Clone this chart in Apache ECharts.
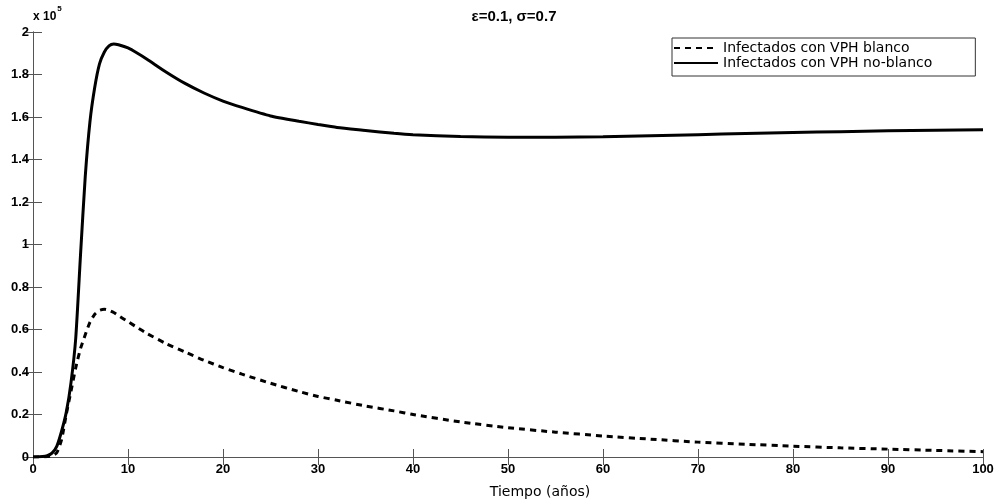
<!DOCTYPE html>
<html>
<head>
<meta charset="utf-8">
<script src="https://cdn.jsdelivr.net/npm/echarts@6/dist/echarts.min.js"></script>
<style>
  html, body { margin: 0; padding: 0; background: #fff; }
  #chart { width: 999px; height: 504px; }
</style>
</head>
<body>
<div id="chart"></div>
<script>
// Time grid (years)
const tiempo = [0, 1, 1.5, 2, 2.5, 3, 3.5, 4, 4.5, 5, 5.5, 6, 6.5, 7, 7.5, 8, 8.5, 9, 10, 11, 12, 14, 16, 18, 20, 22, 25, 28, 30, 32, 35, 38, 40, 45, 50, 55, 60, 65, 70, 75, 80, 85, 90, 95, 100];

// Infected with target HPV types (x 10^5)
const infectadosBlanco = [0, 0.0005, 0.002, 0.006, 0.02, 0.08, 0.2, 0.31, 0.42, 0.51, 0.575, 0.635, 0.672, 0.69, 0.695, 0.69, 0.68, 0.665, 0.637, 0.609, 0.581, 0.534, 0.494, 0.455, 0.421, 0.39, 0.347, 0.308, 0.285, 0.267, 0.24, 0.217, 0.2, 0.165, 0.138, 0.117, 0.099, 0.084, 0.07, 0.06, 0.051, 0.043, 0.037, 0.031, 0.025];

// Infected with non-target HPV types (x 10^5)
const infectadosNoBlanco = [0, 0.002, 0.006, 0.018, 0.05, 0.12, 0.21, 0.35, 0.56, 0.95, 1.32, 1.58, 1.74, 1.85, 1.905, 1.935, 1.944, 1.94, 1.925, 1.9, 1.872, 1.812, 1.758, 1.713, 1.675, 1.645, 1.605, 1.58, 1.565, 1.551, 1.537, 1.523, 1.516, 1.508, 1.505, 1.505, 1.507, 1.512, 1.517, 1.522, 1.527, 1.531, 1.535, 1.538, 1.54];

const nombres = ['Infectados con VPH blanco', 'Infectados con VPH no-blanco'];
const titulo = 'ε=0.1, σ=0.7';
const ejeX = 'Tiempo (años)';

const pares = (xs, ys) => xs.map((x, i) => [x, ys[i]]);

const axisGray = '#555';
const tickFont = { color: '#000', fontFamily: 'Liberation Sans, Arial, sans-serif', fontWeight: 'bold', fontSize: 13 };

const chart = echarts.init(document.getElementById('chart'), null, { renderer: 'canvas' });
chart.setOption({
  backgroundColor: '#fff',
  animation: false,
  title: {
    text: titulo,
    left: 509, top: 4, textAlign: 'center',
    textStyle: { fontFamily: 'Liberation Sans, Arial, sans-serif', fontWeight: 'bold', fontSize: 15, color: '#000' }
  },
  legend: {
    data: nombres,
    orient: 'vertical',
    left: 672, top: 38,
    itemWidth: 44, itemHeight: 14, itemGap: 1,
    padding: [3, 43, 6, 1],
    backgroundColor: '#fff',
    borderColor: '#333', borderWidth: 1,
    itemStyle: { opacity: 0 },
    textStyle: { fontFamily: 'DejaVu Sans, sans-serif', fontSize: 14, color: '#000' }
  },
  graphic: [{
    type: 'text', left: 33, top: 5,
    style: {
      text: '{b|x 10}{s|5}',
      rich: {
        b: { fontFamily: 'Liberation Sans, Arial, sans-serif', fontWeight: 'bold', fontSize: 12, color: '#000', padding: [6, 0, 0, 0] },
        s: { fontFamily: 'Liberation Sans, Arial, sans-serif', fontWeight: 'bold', fontSize: 8, color: '#000', verticalAlign: 'top', padding: [0, 0, 6, 1] }
      }
    }
  }],
  grid: { left: 33, right: 16, top: 32, bottom: 46 },
  xAxis: [{
    type: 'value', min: 0, max: 100, interval: 10,
    name: ejeX, nameLocation: 'middle', nameGap: 28,
    nameTextStyle: { fontFamily: 'DejaVu Sans, sans-serif', fontSize: 14, color: '#000', padding: [0, 0, 0, 64] },
    axisLine: { lineStyle: { color: axisGray, width: 1 } },
    axisTick: { inside: true, length: 8, lineStyle: { color: axisGray } },
    axisLabel: Object.assign({ margin: 6 }, tickFont),
    splitLine: { show: false }
  }, {
    type: 'value', min: 0, max: 100, interval: 10, position: 'top',
    axisLine: { show: true, lineStyle: { color: axisGray, width: 1 } },
    axisTick: { show: true, inside: true, length: 8, lineStyle: { color: axisGray } },
    axisLabel: { show: false },
    splitLine: { show: false }
  }],
  yAxis: [{
    type: 'value', min: 0, max: 2, interval: 0.2,
    axisLine: { show: true, lineStyle: { color: axisGray, width: 1 } },
    axisTick: { show: true, inside: true, length: 9, lineStyle: { color: axisGray } },
    axisLabel: Object.assign({ margin: 4, formatter: v => String(Math.round(v * 10) / 10) }, tickFont),
    splitLine: { show: false }
  }, {
    type: 'value', min: 0, max: 2, interval: 0.2, position: 'right',
    axisLine: { show: true, lineStyle: { color: axisGray, width: 1 } },
    axisTick: { show: true, inside: true, length: 9, lineStyle: { color: axisGray } },
    axisLabel: { show: false },
    splitLine: { show: false }
  }],
  series: [{
    name: nombres[0],
    type: 'line',
    data: pares(tiempo, infectadosBlanco),
    smooth: 0.2,
    symbol: 'none',
    lineStyle: { color: '#000', width: 3, type: [6, 5] },
    itemStyle: { color: '#000' }
  }, {
    name: nombres[1],
    type: 'line',
    data: pares(tiempo, infectadosNoBlanco),
    smooth: 0.2,
    symbol: 'none',
    lineStyle: { color: '#000', width: 3, type: 'solid' },
    itemStyle: { color: '#000' }
  }]
});
</script>
</body>
</html>
